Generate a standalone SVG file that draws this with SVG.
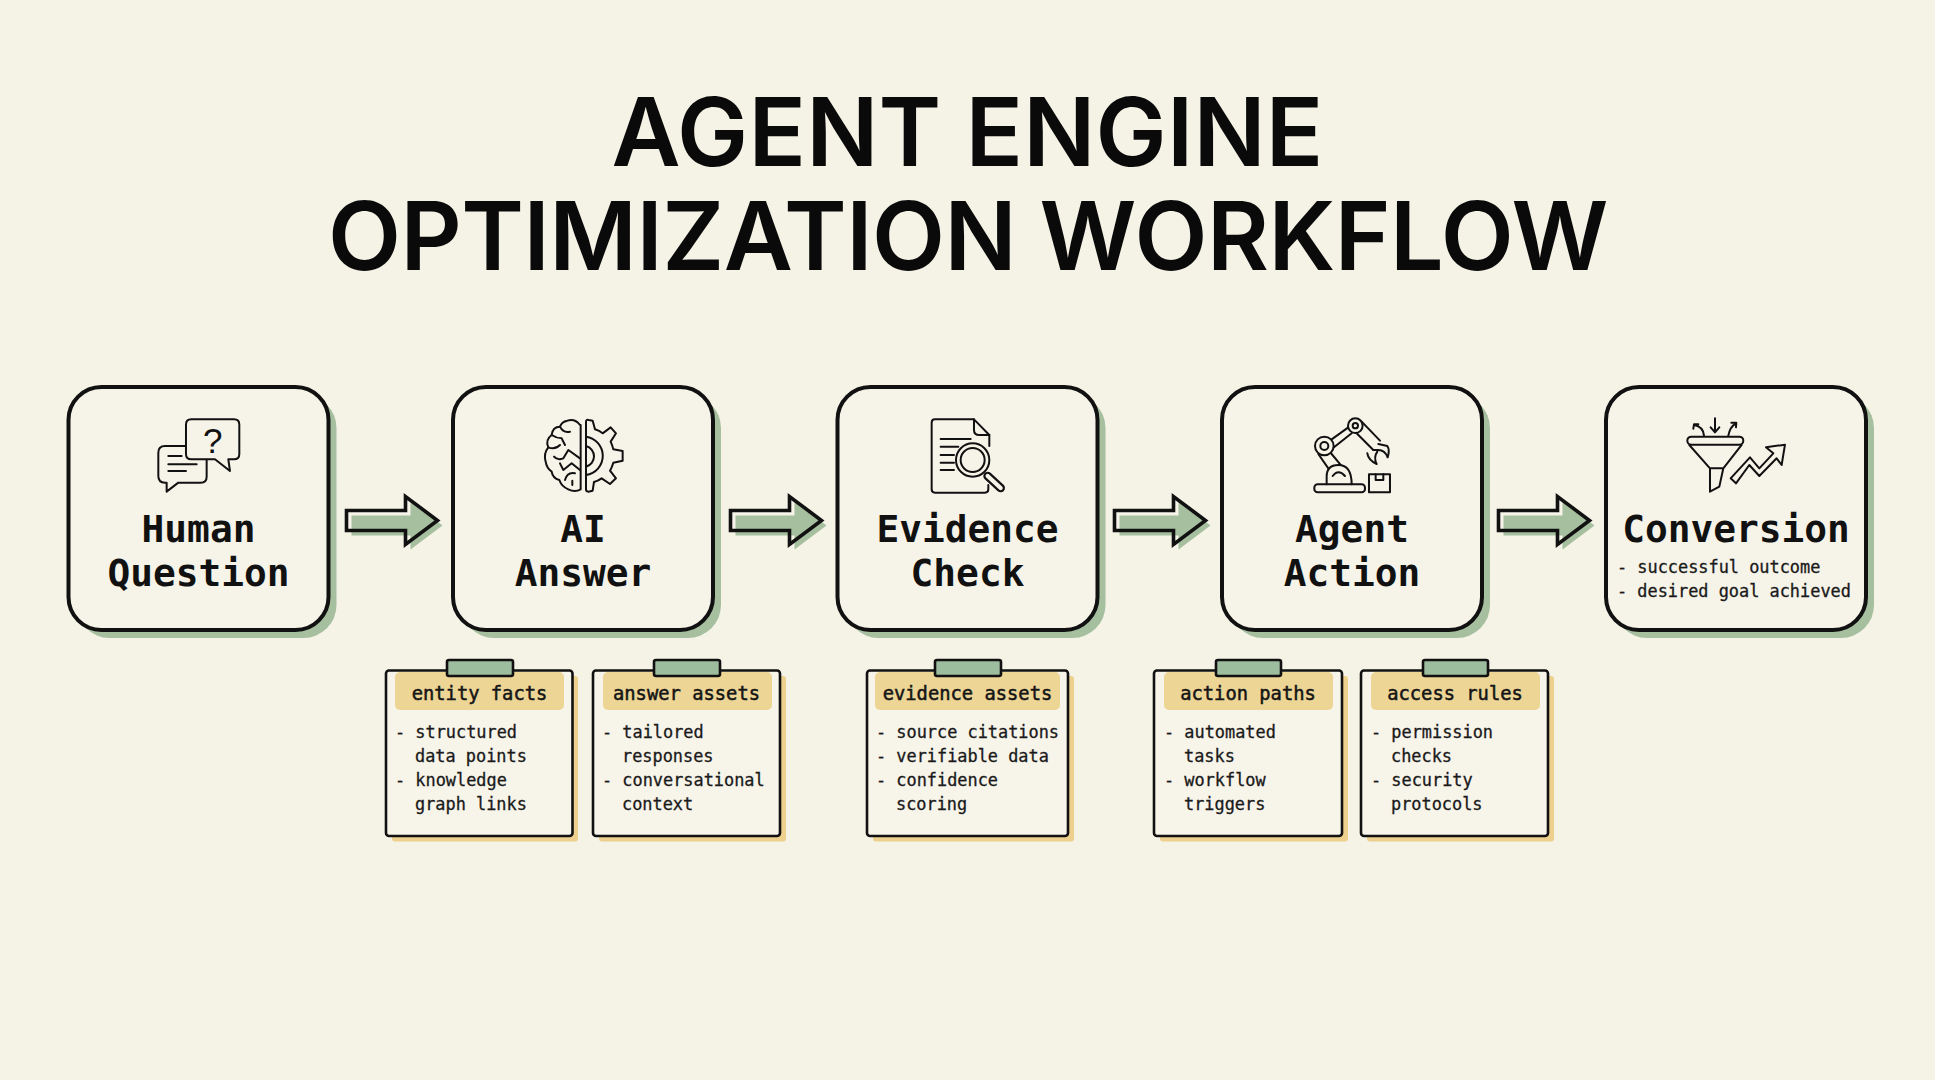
<svg xmlns="http://www.w3.org/2000/svg" width="1935" height="1080" viewBox="0 0 1935 1080">
<style>
.title{font-family:"Inter","Liberation Sans",sans-serif;font-weight:600;font-size:95px;fill:#0a0a0a;text-anchor:middle}
.h{font-family:"DejaVu Sans Mono","Liberation Mono",monospace;font-weight:700;font-size:37.8px;fill:#111;text-anchor:middle}
.b{font-family:"DejaVu Sans Mono","Liberation Mono",monospace;font-size:16.9px;fill:#1a1a1a;stroke:#1a1a1a;stroke-width:.3px}
.nh{font-family:"DejaVu Sans Mono","Liberation Mono",monospace;font-size:18.8px;fill:#151515;stroke:#151515;stroke-width:.5px;text-anchor:middle}
.box{fill:#f6f3e8;stroke:#111;stroke-width:4px}
.sh{fill:#a5bf9f}
.note{fill:#f7f4ea;stroke:#111;stroke-width:2.6px}
.nsh{fill:#eed08e}
.band{fill:#edd596}
.tape{fill:#9dbd9f;stroke:#111;stroke-width:2.6px}
.ic{fill:none;stroke:#111;stroke-width:6px;stroke-linecap:round;stroke-linejoin:round}
.icf{fill:#f6f3e8;stroke:#111;stroke-width:6px;stroke-linecap:round;stroke-linejoin:round}
.acream{fill:#f6f3e8}
.agreen{fill:#a5bf9f}
.aline{fill:none;stroke:#111;stroke-width:3.6px;stroke-linejoin:miter}
</style>
<defs>
<polygon id="arrowShape" points="346.5,510.5 405.5,510.5 405.5,496.5 437.5,520.5 405.5,544.5 405.5,530.5 346.5,530.5"/>
<g id="arrow">
<use href="#arrowShape" class="acream"/>
<use href="#arrowShape" class="agreen" transform="translate(5,5)"/>
<use href="#arrowShape" class="aline"/>
</g>
</defs>
<rect width="1935" height="1080" fill="#f5f2e6"/>
<g id="title">
<text class="title" x="967.5" y="166" letter-spacing="0.2">AGENT ENGINE</text>
<text class="title" x="968" y="269.5" letter-spacing="-0.5">OPTIMIZATION WORKFLOW</text>
</g>
<g id="connectors">
<use href="#arrow"/>
<use href="#arrow" transform="translate(384,0)"/>
<use href="#arrow" transform="translate(768,0)"/>
<use href="#arrow" transform="translate(1152,0)"/>
</g>
<g id="node-human-question">
<rect class="sh" x="76.5" y="395" width="260" height="243" rx="33"/>
<rect class="box" x="68.5" y="387" width="260" height="243" rx="33"/>
<g transform="translate(50,370) scale(.3333)">
<path class="ic" d="M408 228H345Q325 228 325 248V318Q325 338 345 338H350V365L385 338H452Q470 338 470 320V270"/>
<path class="ic" d="M355 258H395M355 283H440M355 303H408"/>
<path class="icf" d="M424 148H552Q568 148 568 164V252Q568 268 552 268H535L540 303L495 268H424Q408 268 408 252V164Q408 148 424 148Z"/>
<text x="488" y="248" font-family="Liberation Sans, sans-serif" font-size="105" fill="#111" text-anchor="middle">?</text>
</g>
<text class="h" x="198.5" y="541.5">Human</text>
<text class="h" x="198.5" y="586">Question</text>
</g>
<g id="node-ai-answer">
<rect class="sh" x="461" y="395" width="260" height="243" rx="33"/>
<rect class="box" x="453" y="387" width="260" height="243" rx="33"/>
<g transform="translate(480,370) scale(.3333)">
<path class="ic" d="M300 165Q285 145 262 152Q245 155 240 170Q218 170 215 195Q195 210 205 232Q190 250 197 275Q200 295 215 305Q218 325 238 330Q245 350 265 358Q285 368 302 358V165Z"/>
<path class="ic" d="M240 170Q250 190 270 185M215 195Q230 205 245 205L255 225M205 232Q225 240 240 225M300 265L265 240L250 265Q232 272 222 260M300 300L275 280L250 300L240 280M255 330Q262 305 285 310M277 332V345"/>
<path class="ic" d="M318 155Q318 148 326 150L338 152L345 178Q358 182 368 190L392 172L408 190L392 215Q398 228 400 238L428 243V272L400 278Q396 292 390 302L408 325L390 342L365 325Q355 332 342 336L338 362L325 365Q318 365 318 358Z"/>
<path class="ic" d="M318 200A58 58 0 0 1 318 315M318 228A32 32 0 0 1 318 290"/>
</g>
<text class="h" x="583" y="541.5">AI</text>
<text class="h" x="583" y="586">Answer</text>
</g>
<g id="node-evidence-check">
<rect class="sh" x="845.5" y="395" width="260" height="243" rx="33"/>
<rect class="box" x="837.5" y="387" width="260" height="243" rx="33"/>
<g transform="translate(850,370) scale(.3333)">
<path class="ic" d="M415 345V358Q415 368 405 368H255Q245 368 245 358V158Q245 148 255 148H372L418 195V228"/>
<path class="ic" d="M372 148V180Q372 195 388 195H418"/>
<path class="ic" d="M272 207H362M272 230H325M272 255H312M272 278H312M272 300H312"/>
<circle class="icf" cx="368" cy="270" r="50"/>
<circle class="ic" cx="368" cy="270" r="36"/>
<path d="M413 318L452 354" stroke="#111" stroke-width="26" stroke-linecap="round"/>
<path d="M413 318L452 354" stroke="#f6f3e8" stroke-width="13" stroke-linecap="round"/>
</g>
<text class="h" x="967.5" y="541.5">Evidence</text>
<text class="h" x="967.5" y="586">Check</text>
</g>
<g id="node-agent-action">
<rect class="sh" x="1230" y="395" width="260" height="243" rx="33"/>
<rect class="box" x="1222" y="387" width="260" height="243" rx="33"/>
<g transform="translate(1210,370) scale(.3333)">
<rect class="ic" x="313" y="343" width="152" height="24" rx="10"/>
<path class="ic" d="M350 343V320Q350 285 385 285Q425 285 425 343M368 318Q385 295 405 318"/>
<path class="ic" d="M325 252L355 295M360 246L392 285"/>
<path class="ic" d="M365 208L415 172M372 232L425 190M455 155L510 212M440 190L490 240"/>
<circle class="icf" cx="343" cy="228" r="28"/>
<circle class="ic" cx="343" cy="228" r="12"/>
<circle class="icf" cx="436" cy="167" r="22"/>
<circle class="ic" cx="436" cy="167" r="8"/>
<path class="ic" d="M505 222L532 228Q540 240 533 262Q525 240 505 240L490 240M472 250Q475 270 500 282Q490 262 502 245"/>
<rect class="ic" x="477" y="313" width="63" height="54"/>
<path class="ic" d="M497 313V330H520V313"/>
</g>
<text class="h" x="1352" y="541.5">Agent</text>
<text class="h" x="1352" y="586">Action</text>
</g>
<g id="node-conversion">
<rect class="sh" x="1614" y="395" width="260" height="243" rx="33"/>
<rect class="box" x="1606" y="387" width="260" height="243" rx="33"/>
<g transform="translate(1560,370) scale(.3333)">
<rect class="ic" x="382" y="200" width="168" height="24" rx="12"/>
<path class="ic" d="M388 225L450 295V365L478 350L490 295L545 225M450 295H490"/>
<path class="ic" d="M465 145V185M452 172L465 187L478 172M403 165Q430 170 432 197M400 176L402 163L415 163M505 197Q510 170 528 160M514 158L529 158L528 172"/>
<path class="ic" d="M512 325L570 262L598 295L640 250L618 232L675 224L665 285L650 265L598 318L568 285L528 340Z"/>
</g>
<text class="h" x="1736" y="541.5">Conversion</text>
<text class="b" x="1617" y="573">- successful outcome</text>
<text class="b" x="1617" y="597">- desired goal achieved</text>
</g>
<g id="note-entity-facts">
<rect class="nsh" x="392" y="676" width="186" height="165.5" rx="3"/>
<rect class="note" x="386" y="670.5" width="186.5" height="165.5" rx="3"/>
<rect class="band" x="395" y="672" width="169" height="38" rx="5"/>
<rect class="tape" x="447" y="660" width="66" height="16" rx="2"/>
<text class="nh" x="479.5" y="700">entity facts</text>
<text class="b" x="395" y="738">- structured</text>
<text class="b" x="415" y="762">data points</text>
<text class="b" x="395" y="786">- knowledge</text>
<text class="b" x="415" y="810">graph links</text>
</g>
<g id="note-answer-assets">
<rect class="nsh" x="599" y="676" width="187" height="165.5" rx="3"/>
<rect class="note" x="593" y="670.5" width="187" height="165.5" rx="3"/>
<rect class="band" x="603" y="672" width="169" height="38" rx="5"/>
<rect class="tape" x="654" y="660" width="66" height="16" rx="2"/>
<text class="nh" x="686.5" y="700">answer assets</text>
<text class="b" x="602" y="738">- tailored</text>
<text class="b" x="622" y="762">responses</text>
<text class="b" x="602" y="786">- conversational</text>
<text class="b" x="622" y="810">context</text>
</g>
<g id="note-evidence-assets">
<rect class="nsh" x="873" y="676" width="201" height="165.5" rx="3"/>
<rect class="note" x="867" y="670.5" width="201" height="165.5" rx="3"/>
<rect class="band" x="875" y="672" width="185" height="38" rx="5"/>
<rect class="tape" x="935" y="660" width="66" height="16" rx="2"/>
<text class="nh" x="967.5" y="700">evidence assets</text>
<text class="b" x="876" y="738">- source citations</text>
<text class="b" x="876" y="762">- verifiable data</text>
<text class="b" x="876" y="786">- confidence</text>
<text class="b" x="896" y="810">scoring</text>
</g>
<g id="note-action-paths">
<rect class="nsh" x="1160" y="676" width="188" height="165.5" rx="3"/>
<rect class="note" x="1154" y="670.5" width="188" height="165.5" rx="3"/>
<rect class="band" x="1164" y="672" width="169" height="38" rx="5"/>
<rect class="tape" x="1216" y="660" width="65" height="16" rx="2"/>
<text class="nh" x="1248" y="700">action paths</text>
<text class="b" x="1164" y="738">- automated</text>
<text class="b" x="1184" y="762">tasks</text>
<text class="b" x="1164" y="786">- workflow</text>
<text class="b" x="1184" y="810">triggers</text>
</g>
<g id="note-access-rules">
<rect class="nsh" x="1367" y="676" width="187" height="165.5" rx="3"/>
<rect class="note" x="1361" y="670.5" width="187" height="165.5" rx="3"/>
<rect class="band" x="1371" y="672" width="169" height="38" rx="5"/>
<rect class="tape" x="1423" y="660" width="65" height="16" rx="2"/>
<text class="nh" x="1455" y="700">access rules</text>
<text class="b" x="1371" y="738">- permission</text>
<text class="b" x="1391" y="762">checks</text>
<text class="b" x="1371" y="786">- security</text>
<text class="b" x="1391" y="810">protocols</text>
</g>
</svg>
